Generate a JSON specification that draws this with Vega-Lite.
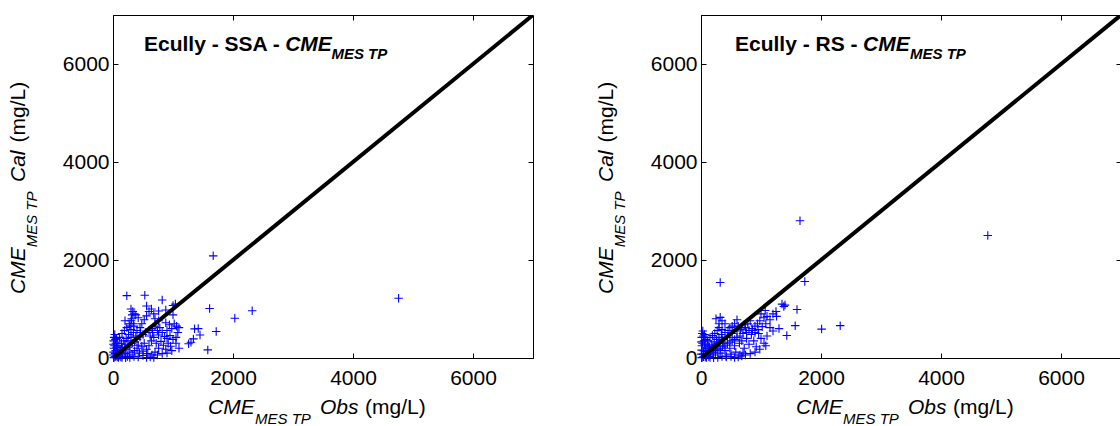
{
  "$schema": "https://vega.github.io/schema/vega-lite/v6.json",
  "padding": {"left": 7, "top": 14, "right": 0, "bottom": 0},
  "background": "white",
  "spacing": 168,
  "bounds": "flush",
  "config": {
    "view": {"stroke": "black", "strokeWidth": 1},
    "font": "Liberation Sans",
    "axis": {"grid": false, "labelFont": "Liberation Sans", "labelFontSize": 21, "labelColor": "black", "tickColor": "black", "domainColor": "black", "tickWidth": 1, "labelFlush": false, "labelOverlap": false, "format": "d"}
  },
  "datasets": {
    "one": [{}],
    "diag": [{"obs": 0, "cal": 0}, {"obs": 7000, "cal": 7000}],
    "ssa": [
      {"obs":4760,"cal":1220},{"obs":1670,"cal":2085},{"obs":1610,"cal":1010},{"obs":2320,"cal":965},{"obs":2030,"cal":810},{"obs":1720,"cal":540},{"obs":1580,"cal":165},{"obs":1360,"cal":595},{"obs":1420,"cal":600},{"obs":1340,"cal":390},{"obs":1260,"cal":290},{"obs":1450,"cal":470},{"obs":1300,"cal":320},
      {"obs":230,"cal":1272},{"obs":530,"cal":1280},{"obs":820,"cal":1185},{"obs":1040,"cal":1100},{"obs":640,"cal":1000},{"obs":560,"cal":1060},{"obs":600,"cal":950},{"obs":1000,"cal":1070},{"obs":330,"cal":950},{"obs":320,"cal":880},{"obs":310,"cal":800},{"obs":350,"cal":900},{"obs":300,"cal":760},{"obs":340,"cal":700},{"obs":280,"cal":650},{"obs":1020,"cal":700},{"obs":1060,"cal":650},{"obs":980,"cal":600},{"obs":1100,"cal":620},{"obs":900,"cal":560},{"obs":820,"cal":520},{"obs":760,"cal":470},{"obs":700,"cal":650},{"obs":650,"cal":600},{"obs":600,"cal":560},{"obs":540,"cal":520},{"obs":500,"cal":480},{"obs":450,"cal":430},{"obs":400,"cal":380},{"obs":360,"cal":330},{"obs":320,"cal":300},{"obs":280,"cal":250},{"obs":250,"cal":220},{"obs":200,"cal":180},{"obs":160,"cal":150},{"obs":120,"cal":110},{"obs":90,"cal":80},{"obs":60,"cal":50},{"obs":40,"cal":30},{"obs":20,"cal":15},{"obs":10,"cal":5},{"obs":5,"cal":60},{"obs":10,"cal":120},{"obs":15,"cal":200},{"obs":8,"cal":280},{"obs":12,"cal":350},{"obs":20,"cal":420},{"obs":30,"cal":480},{"obs":40,"cal":380},{"obs":50,"cal":300},{"obs":60,"cal":220},{"obs":70,"cal":150},{"obs":80,"cal":100},{"obs":100,"cal":40},{"obs":130,"cal":20},{"obs":160,"cal":60},{"obs":200,"cal":90},{"obs":240,"cal":30},{"obs":280,"cal":120},{"obs":320,"cal":60},{"obs":360,"cal":150},{"obs":400,"cal":200},{"obs":440,"cal":100},{"obs":480,"cal":240},{"obs":520,"cal":300},{"obs":560,"cal":180},{"obs":600,"cal":250},{"obs":640,"cal":350},{"obs":680,"cal":420},{"obs":720,"cal":300},{"obs":760,"cal":200},{"obs":800,"cal":340},{"obs":840,"cal":260},{"obs":880,"cal":180},{"obs":920,"cal":300},{"obs":960,"cal":240},{"obs":1000,"cal":380},{"obs":1050,"cal":300},{"obs":1100,"cal":200},{"obs":700,"cal":120},{"obs":650,"cal":60},{"obs":580,"cal":90},{"obs":500,"cal":140},{"obs":420,"cal":260},{"obs":380,"cal":450},{"obs":340,"cal":520},{"obs":300,"cal":580},{"obs":260,"cal":480},{"obs":220,"cal":400},{"obs":180,"cal":350},{"obs":140,"cal":300},{"obs":100,"cal":250},{"obs":110,"cal":420},{"obs":150,"cal":500},{"obs":190,"cal":560},{"obs":230,"cal":620},{"obs":270,"cal":700},{"obs":200,"cal":760},{"obs":450,"cal":620},{"obs":480,"cal":700},{"obs":520,"cal":780},{"obs":560,"cal":860},{"obs":420,"cal":820},{"obs":380,"cal":880},{"obs":700,"cal":800},{"obs":760,"cal":760},{"obs":880,"cal":720},{"obs":940,"cal":680},{"obs":1000,"cal":880},{"obs":300,"cal":1000},{"obs":350,"cal":650},{"obs":400,"cal":560},{"obs":460,"cal":520},{"obs":620,"cal":450},{"obs":660,"cal":520},{"obs":740,"cal":560},{"obs":780,"cal":620},{"obs":860,"cal":440},{"obs":900,"cal":400},{"obs":950,"cal":460},{"obs":1050,"cal":420},{"obs":300,"cal":420},{"obs":250,"cal":350},{"obs":200,"cal":280},{"obs":150,"cal":220},{"obs":120,"cal":180},{"obs":80,"cal":300},{"obs":60,"cal":400},{"obs":45,"cal":150},{"obs":25,"cal":250},{"obs":35,"cal":90},{"obs":70,"cal":20},{"obs":90,"cal":10},{"obs":150,"cal":10},{"obs":210,"cal":5},{"obs":280,"cal":10},{"obs":350,"cal":30},{"obs":420,"cal":20},{"obs":500,"cal":50},{"obs":560,"cal":10},{"obs":620,"cal":20},{"obs":680,"cal":10},{"obs":740,"cal":60},{"obs":820,"cal":90},{"obs":900,"cal":100},{"obs":980,"cal":150},{"obs":1080,"cal":520},{"obs":760,"cal":960},{"obs":880,"cal":980},{"obs":680,"cal":900}
    ],
    "rs": [
      {"obs":4780,"cal":2500},{"obs":1650,"cal":2800},{"obs":1730,"cal":1560},{"obs":320,"cal":1540},{"obs":1350,"cal":1100},{"obs":1380,"cal":1050},{"obs":1400,"cal":1080},{"obs":1600,"cal":990},{"obs":1260,"cal":850},{"obs":1570,"cal":660},{"obs":1430,"cal":460},{"obs":2010,"cal":590},{"obs":2320,"cal":660},{"obs":320,"cal":830},{"obs":1070,"cal":970},{"obs":1000,"cal":900},{"obs":1050,"cal":820},{"obs":980,"cal":760},{"obs":940,"cal":700},{"obs":900,"cal":650},{"obs":850,"cal":600},{"obs":800,"cal":560},{"obs":760,"cal":520},{"obs":700,"cal":500},{"obs":650,"cal":450},{"obs":600,"cal":420},{"obs":560,"cal":380},{"obs":520,"cal":350},{"obs":480,"cal":320},{"obs":440,"cal":290},{"obs":400,"cal":260},{"obs":360,"cal":230},{"obs":320,"cal":200},{"obs":280,"cal":180},{"obs":240,"cal":150},{"obs":200,"cal":120},{"obs":160,"cal":100},{"obs":120,"cal":80},{"obs":80,"cal":50},{"obs":40,"cal":25},{"obs":20,"cal":10},{"obs":10,"cal":5},{"obs":5,"cal":80},{"obs":10,"cal":160},{"obs":15,"cal":250},{"obs":8,"cal":330},{"obs":12,"cal":420},{"obs":20,"cal":500},{"obs":30,"cal":550},{"obs":40,"cal":450},{"obs":50,"cal":350},{"obs":60,"cal":280},{"obs":70,"cal":200},{"obs":80,"cal":130},{"obs":100,"cal":60},{"obs":130,"cal":30},{"obs":160,"cal":160},{"obs":200,"cal":220},{"obs":240,"cal":60},{"obs":280,"cal":300},{"obs":320,"cal":100},{"obs":360,"cal":380},{"obs":400,"cal":150},{"obs":440,"cal":420},{"obs":480,"cal":200},{"obs":520,"cal":500},{"obs":560,"cal":250},{"obs":600,"cal":550},{"obs":640,"cal":300},{"obs":680,"cal":350},{"obs":720,"cal":200},{"obs":760,"cal":400},{"obs":800,"cal":280},{"obs":840,"cal":480},{"obs":880,"cal":350},{"obs":920,"cal":230},{"obs":960,"cal":500},{"obs":1000,"cal":400},{"obs":1050,"cal":300},{"obs":1100,"cal":450},{"obs":700,"cal":100},{"obs":650,"cal":60},{"obs":580,"cal":120},{"obs":500,"cal":80},{"obs":420,"cal":40},{"obs":380,"cal":300},{"obs":340,"cal":480},{"obs":300,"cal":420},{"obs":260,"cal":380},{"obs":220,"cal":330},{"obs":180,"cal":280},{"obs":140,"cal":230},{"obs":100,"cal":200},{"obs":110,"cal":350},{"obs":150,"cal":420},{"obs":190,"cal":460},{"obs":230,"cal":500},{"obs":270,"cal":560},{"obs":300,"cal":620},{"obs":350,"cal":580},{"obs":400,"cal":520},{"obs":450,"cal":560},{"obs":480,"cal":620},{"obs":520,"cal":650},{"obs":560,"cal":700},{"obs":620,"cal":650},{"obs":680,"cal":620},{"obs":720,"cal":680},{"obs":780,"cal":700},{"obs":820,"cal":760},{"obs":660,"cal":580},{"obs":740,"cal":620},{"obs":860,"cal":560},{"obs":900,"cal":520},{"obs":950,"cal":580},{"obs":1020,"cal":640},{"obs":1080,"cal":700},{"obs":1150,"cal":780},{"obs":1200,"cal":900},{"obs":1250,"cal":950},{"obs":1100,"cal":850},{"obs":300,"cal":300},{"obs":250,"cal":250},{"obs":200,"cal":200},{"obs":150,"cal":150},{"obs":120,"cal":250},{"obs":80,"cal":380},{"obs":60,"cal":480},{"obs":45,"cal":150},{"obs":25,"cal":300},{"obs":35,"cal":80},{"obs":70,"cal":20},{"obs":90,"cal":10},{"obs":150,"cal":10},{"obs":210,"cal":5},{"obs":280,"cal":10},{"obs":350,"cal":30},{"obs":420,"cal":20},{"obs":500,"cal":30},{"obs":560,"cal":10},{"obs":620,"cal":20},{"obs":680,"cal":40},{"obs":740,"cal":60},{"obs":820,"cal":90},{"obs":900,"cal":120},{"obs":980,"cal":180},{"obs":1080,"cal":250},{"obs":1200,"cal":550},{"obs":1300,"cal":600},{"obs":1150,"cal":620},{"obs":250,"cal":800},{"obs":350,"cal":760},{"obs":600,"cal":780},{"obs":300,"cal":700},{"obs":400,"cal":700}
    ]
  },
  "hconcat": [
    {
      "width": 420, "height": 343,
      "resolve": {"axis": {"x": "independent", "y": "independent"}},
      "layer": [
        {"data": {"name": "ssa"}, "mark": {"type": "point", "shape": "M-1,0L1,0M0,-1L0,1", "size": 72, "color": "#0000ff", "filled": false, "strokeWidth": 1.1, "opacity": 1},
         "encoding": {
           "x": {"field": "obs", "type": "quantitative", "scale": {"domain": [0, 7000], "nice": false}, "axis": {"orient": "bottom", "values": [0, 2000, 4000, 6000], "title": null, "tickSize": -5, "labelPadding": 14}},
           "y": {"field": "cal", "type": "quantitative", "scale": {"domain": [0, 7000], "nice": false}, "axis": {"orient": "left", "values": [0, 2000, 4000, 6000], "title": null, "tickSize": -5, "labelPadding": 9}}}},
        {"data": {"name": "diag"}, "mark": {"type": "line", "color": "black", "strokeWidth": 4, "clip": true},
         "encoding": {
           "x": {"field": "obs", "type": "quantitative", "scale": {"domain": [0, 7000], "nice": false}, "axis": {"orient": "top", "values": [0, 2000, 4000, 6000], "title": null, "labels": false, "domain": false, "tickSize": -5}},
           "y": {"field": "cal", "type": "quantitative", "scale": {"domain": [0, 7000], "nice": false}, "axis": {"orient": "right", "values": [0, 2000, 4000, 6000], "title": null, "labels": false, "domain": false, "tickSize": -5}}}},
        {"data": {"name": "one"}, "mark": {"type": "text", "text": "Ecully - SSA - ", "fontSize": 21, "fontWeight": "bold", "align": "left", "baseline": "alphabetic", "color": "black"},
         "encoding": {"x": {"datum": 517, "type": "quantitative", "axis": null}, "y": {"datum": 6271, "type": "quantitative", "axis": null}}},
        {"data": {"name": "one"}, "mark": {"type": "text", "text": "CME", "fontSize": 21, "fontWeight": "bold", "fontStyle": "italic", "align": "left", "baseline": "alphabetic", "color": "black"},
         "encoding": {"x": {"datum": 2870, "type": "quantitative", "axis": null}, "y": {"datum": 6271, "type": "quantitative", "axis": null}}},
        {"data": {"name": "one"}, "mark": {"type": "text", "text": "MES TP", "fontSize": 15, "fontWeight": "bold", "fontStyle": "italic", "align": "left", "baseline": "alphabetic", "color": "black"},
         "encoding": {"x": {"datum": 3640, "type": "quantitative", "axis": null}, "y": {"datum": 6102, "type": "quantitative", "axis": null}}},
        {"data": {"name": "one"}, "mark": {"type": "text", "text": "CME", "fontSize": 21, "fontStyle": "italic", "align": "left", "baseline": "alphabetic", "color": "black"},
         "encoding": {"x": {"datum": 1583, "type": "quantitative", "axis": null}, "y": {"datum": -1143, "type": "quantitative", "axis": null}}},
        {"data": {"name": "one"}, "mark": {"type": "text", "text": "MES TP", "fontSize": 15, "fontStyle": "italic", "align": "left", "baseline": "alphabetic", "color": "black"},
         "encoding": {"x": {"datum": 2366, "type": "quantitative", "axis": null}, "y": {"datum": -1350, "type": "quantitative", "axis": null}}},
        {"data": {"name": "one"}, "mark": {"type": "text", "text": "Obs", "fontSize": 21, "fontStyle": "italic", "align": "left", "baseline": "alphabetic", "color": "black"},
         "encoding": {"x": {"datum": 3450, "type": "quantitative", "axis": null}, "y": {"datum": -1143, "type": "quantitative", "axis": null}}},
        {"data": {"name": "one"}, "mark": {"type": "text", "text": "(mg/L)", "fontSize": 21, "align": "left", "baseline": "alphabetic", "color": "black"},
         "encoding": {"x": {"datum": 4200, "type": "quantitative", "axis": null}, "y": {"datum": -1143, "type": "quantitative", "axis": null}}},
        {"data": {"name": "one"}, "mark": {"type": "text", "text": "CME", "fontSize": 21, "fontStyle": "italic", "angle": 270, "align": "left", "baseline": "alphabetic", "color": "black"},
         "encoding": {"x": {"datum": -1467, "type": "quantitative", "axis": null}, "y": {"datum": 1306, "type": "quantitative", "axis": null}}},
        {"data": {"name": "one"}, "mark": {"type": "text", "text": "MES TP", "fontSize": 15, "fontStyle": "italic", "angle": 270, "align": "left", "baseline": "alphabetic", "color": "black"},
         "encoding": {"x": {"datum": -1267, "type": "quantitative", "axis": null}, "y": {"datum": 2260, "type": "quantitative", "axis": null}}},
        {"data": {"name": "one"}, "mark": {"type": "text", "text": "Cal", "fontSize": 21, "fontStyle": "italic", "angle": 270, "align": "left", "baseline": "alphabetic", "color": "black"},
         "encoding": {"x": {"datum": -1467, "type": "quantitative", "axis": null}, "y": {"datum": 3592, "type": "quantitative", "axis": null}}},
        {"data": {"name": "one"}, "mark": {"type": "text", "text": "(mg/L)", "fontSize": 21, "angle": 270, "align": "left", "baseline": "alphabetic", "color": "black"},
         "encoding": {"x": {"datum": -1467, "type": "quantitative", "axis": null}, "y": {"datum": 4400, "type": "quantitative", "axis": null}}}
      ]
    },
    {
      "width": 420, "height": 343,
      "resolve": {"axis": {"x": "independent", "y": "independent"}},
      "layer": [
        {"data": {"name": "rs"}, "mark": {"type": "point", "shape": "M-1,0L1,0M0,-1L0,1", "size": 72, "color": "#0000ff", "filled": false, "strokeWidth": 1.1, "opacity": 1},
         "encoding": {
           "x": {"field": "obs", "type": "quantitative", "scale": {"domain": [0, 7000], "nice": false}, "axis": {"orient": "bottom", "values": [0, 2000, 4000, 6000], "title": null, "tickSize": -5, "labelPadding": 14}},
           "y": {"field": "cal", "type": "quantitative", "scale": {"domain": [0, 7000], "nice": false}, "axis": {"orient": "left", "values": [0, 2000, 4000, 6000], "title": null, "tickSize": -5, "labelPadding": 9}}}},
        {"data": {"name": "diag"}, "mark": {"type": "line", "color": "black", "strokeWidth": 4, "clip": true},
         "encoding": {
           "x": {"field": "obs", "type": "quantitative", "scale": {"domain": [0, 7000], "nice": false}, "axis": {"orient": "top", "values": [0, 2000, 4000, 6000], "title": null, "labels": false, "domain": false, "tickSize": -5}},
           "y": {"field": "cal", "type": "quantitative", "scale": {"domain": [0, 7000], "nice": false}, "axis": {"orient": "right", "values": [0, 2000, 4000, 6000], "title": null, "labels": false, "domain": false, "tickSize": -5}}}},
        {"data": {"name": "one"}, "mark": {"type": "text", "text": "Ecully - RS - ", "fontSize": 21, "fontWeight": "bold", "align": "left", "baseline": "alphabetic", "color": "black"},
         "encoding": {"x": {"datum": 567, "type": "quantitative", "axis": null}, "y": {"datum": 6271, "type": "quantitative", "axis": null}}},
        {"data": {"name": "one"}, "mark": {"type": "text", "text": "CME", "fontSize": 21, "fontWeight": "bold", "fontStyle": "italic", "align": "left", "baseline": "alphabetic", "color": "black"},
         "encoding": {"x": {"datum": 2700, "type": "quantitative", "axis": null}, "y": {"datum": 6271, "type": "quantitative", "axis": null}}},
        {"data": {"name": "one"}, "mark": {"type": "text", "text": "MES TP", "fontSize": 15, "fontWeight": "bold", "fontStyle": "italic", "align": "left", "baseline": "alphabetic", "color": "black"},
         "encoding": {"x": {"datum": 3483, "type": "quantitative", "axis": null}, "y": {"datum": 6102, "type": "quantitative", "axis": null}}},
        {"data": {"name": "one"}, "mark": {"type": "text", "text": "CME", "fontSize": 21, "fontStyle": "italic", "align": "left", "baseline": "alphabetic", "color": "black"},
         "encoding": {"x": {"datum": 1583, "type": "quantitative", "axis": null}, "y": {"datum": -1143, "type": "quantitative", "axis": null}}},
        {"data": {"name": "one"}, "mark": {"type": "text", "text": "MES TP", "fontSize": 15, "fontStyle": "italic", "align": "left", "baseline": "alphabetic", "color": "black"},
         "encoding": {"x": {"datum": 2366, "type": "quantitative", "axis": null}, "y": {"datum": -1350, "type": "quantitative", "axis": null}}},
        {"data": {"name": "one"}, "mark": {"type": "text", "text": "Obs", "fontSize": 21, "fontStyle": "italic", "align": "left", "baseline": "alphabetic", "color": "black"},
         "encoding": {"x": {"datum": 3450, "type": "quantitative", "axis": null}, "y": {"datum": -1143, "type": "quantitative", "axis": null}}},
        {"data": {"name": "one"}, "mark": {"type": "text", "text": "(mg/L)", "fontSize": 21, "align": "left", "baseline": "alphabetic", "color": "black"},
         "encoding": {"x": {"datum": 4200, "type": "quantitative", "axis": null}, "y": {"datum": -1143, "type": "quantitative", "axis": null}}},
        {"data": {"name": "one"}, "mark": {"type": "text", "text": "CME", "fontSize": 21, "fontStyle": "italic", "angle": 270, "align": "left", "baseline": "alphabetic", "color": "black"},
         "encoding": {"x": {"datum": -1467, "type": "quantitative", "axis": null}, "y": {"datum": 1306, "type": "quantitative", "axis": null}}},
        {"data": {"name": "one"}, "mark": {"type": "text", "text": "MES TP", "fontSize": 15, "fontStyle": "italic", "angle": 270, "align": "left", "baseline": "alphabetic", "color": "black"},
         "encoding": {"x": {"datum": -1267, "type": "quantitative", "axis": null}, "y": {"datum": 2260, "type": "quantitative", "axis": null}}},
        {"data": {"name": "one"}, "mark": {"type": "text", "text": "Cal", "fontSize": 21, "fontStyle": "italic", "angle": 270, "align": "left", "baseline": "alphabetic", "color": "black"},
         "encoding": {"x": {"datum": -1467, "type": "quantitative", "axis": null}, "y": {"datum": 3592, "type": "quantitative", "axis": null}}},
        {"data": {"name": "one"}, "mark": {"type": "text", "text": "(mg/L)", "fontSize": 21, "angle": 270, "align": "left", "baseline": "alphabetic", "color": "black"},
         "encoding": {"x": {"datum": -1467, "type": "quantitative", "axis": null}, "y": {"datum": 4400, "type": "quantitative", "axis": null}}}
      ]
    }
  ]
}
